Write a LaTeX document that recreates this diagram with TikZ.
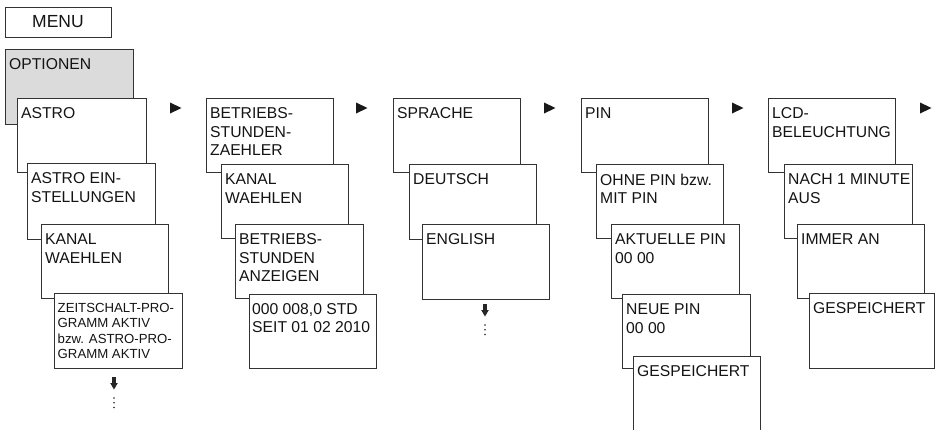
\documentclass[tikz,border=0pt]{standalone}
\usepackage{fontspec}
\setmainfont{Liberation Sans}
\newcommand\bx[5][]{%
  \node[box,#1] (#2) at (#3,#4) {};
  \node[txt] (#2t) at ([xshift=4pt,yshift=-9.7pt]#2.north west) {#5};}
\begin{document}
\begin{tikzpicture}[x=1pt,y=-1pt,
  box/.style={draw=black!80, line width=0.9pt, fill=white, anchor=north west,
    inner sep=0pt, outer sep=0pt, minimum width=127pt, minimum height=74pt},
  txt/.style={anchor=north west, inner sep=0pt, align=left, text=black!92,
    font=\fontsize{15.7}{18.3}\selectfont},
  smalltxt/.style={txt, font=\fontsize{13.2}{15.3}\selectfont},
  tri/.style={fill=black!90},
  darrow/.style={fill=black!85},
  dot/.style={fill=black!85}]
\useasboundingbox (0,0) rectangle (935,429);

% MENU
\node[box, minimum width=106pt, minimum height=30pt, fill=white] (menu) at (5,7) {};
\node[txt, anchor=center, font=\fontsize{17.5}{20}\selectfont] (menut) at (menu.center) {MENU};

% OPTIONEN
\bx[fill=black!14, minimum width=128pt, minimum height=75pt]{opt}{5}{49}{OPTIONEN}

% column 1
\bx[minimum width=129pt]{a1}{17}{98}{ASTRO}
\bx[minimum width=128pt, minimum height=76pt]{a2}{27}{163}{ASTRO EIN-\\STELLUNGEN}
\bx{a3}{41}{224}{KANAL\\WAEHLEN}
\node[box, minimum width=128pt, minimum height=75pt] (a4) at (54,293) {};
\node[smalltxt] (a4t) at ([xshift=3.5pt,yshift=-10pt]a4.north west)
  {ZEITSCHALT-PRO-\\GRAMM AKTIV\\bzw. ASTRO-PRO-\\GRAMM AKTIV};

% column 2
\bx{b1}{206}{98}{BETRIEBS-\\STUNDEN-\\ZAEHLER}
\bx{b2}{221}{164}{KANAL\\WAEHLEN}
\bx[minimum width=128pt]{b3}{235}{224}{BETRIEBS-\\STUNDEN\\ANZEIGEN}
\node[box] (b4) at (249,294) {};
\node[txt] (b4t) at ([xshift=3pt,yshift=-9.5pt]b4.north west) {000 008,0 STD\\SEIT 01 02 2010};

% column 3
\bx{c1}{393}{98}{SPRACHE}
\bx[minimum height=75pt]{c2}{409}{164}{DEUTSCH}
\bx[minimum height=75pt]{c3}{422}{224}{ENGLISH}

% column 4
\bx{d1}{581}{98}{PIN}
\bx{d2}{596}{164}{OHNE PIN bzw.\\MIT PIN}
\bx[minimum width=128pt]{d3}{611}{224}{AKTUELLE PIN\\00 00}
\bx[minimum width=128pt]{d4}{622}{294}{NEUE PIN\\00 00}
\bx[minimum height=76pt]{d5}{633}{356}{GESPEICHERT}

% column 5
\bx{e1}{768}{98}{LCD-\\BELEUCHTUNG}
\bx[minimum width=128pt]{e2}{784}{164}{NACH 1 MINUTE\\AUS}
\bx{e3}{797}{224}{IMMER AN}
\bx[minimum width=125pt, minimum height=75pt]{e4}{809}{293}{GESPEICHERT}

% right-pointing triangles
\foreach \x in {170,356,544,732,920}
  \fill[tri] (\x,102.5) -- (\x+11.5,108) -- (\x,113.5) -- cycle;

% down arrows with dots
\foreach \x/\y in {114/377, 485/304} {
  \fill[darrow] (\x-1.7,\y) rectangle (\x+1.7,\y+7);
  \fill[darrow] (\x-3.8,\y+6) -- (\x+3.8,\y+6) -- (\x,\y+12.5) -- cycle;
  \foreach \d in {21,25.7,30.4}
    \fill[dot] (\x,\y+\d) circle (0.9pt);
}
\end{tikzpicture}
\end{document}
